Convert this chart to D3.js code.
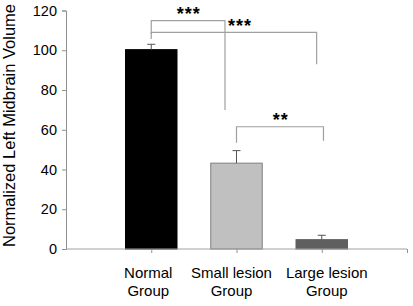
<!DOCTYPE html>
<html>
<head>
<meta charset="utf-8">
<script src="https://cdn.jsdelivr.net/npm/d3@7"></script>
<style>
  body { margin: 0; background: #fff; }
  text { font-family: "Liberation Sans", Arial, sans-serif; fill: #000; }
</style>
</head>
<body>
<svg id="chart" width="413" height="306"></svg>
<script>
// chart data
const groups = [["Normal", "Group"], ["Small lesion", "Group"], ["Large lesion", "Group"]];
const values = [100.3, 43.2, 4.7];
const errors = [2.7, 6.3, 2.2];
const barColors = ["#000000", "#c0c0c0", "#5f5f5f"];
const yTicks = [0, 20, 40, 60, 80, 100, 120];

// significance brackets: [left pos, right pos, top, left foot, right foot, label]
const brackets = [
  [1, 1.865, 114.9, 108.2, 69.9, "***"],
  [1, 2.94, 109.0, 105.7, 92.9, "***"],
  [2, 3.02, 61.5, 53.5, 54.5, "**"]
];
const starPos = [[1.44, 115.3], [2.04, 109.3], [2.52, 62]];

const svg = d3.select("#chart");

let x = d3.scaleLinear().domain([0, 4]).range([66, 407]);
let y = d3.scaleLinear().domain([0, 120]).range([249, 10.5]);
let barW = 51.5;

// y axis
let yAxis = d3.axisLeft(y).tickValues(yTicks).tickSize(4).tickPadding(5);
let ya = svg.append("g").attr("transform", "translate(66,0)").call(yAxis);
ya.select(".domain").attr("stroke", "#909090");
ya.selectAll(".tick line").attr("stroke", "#909090");
ya.selectAll(".tick text").style("font-size", "14.5px").attr("fill", "#000");

// bars
svg.selectAll("rect.bar").data(values).enter().append("rect")
  .attr("class", "bar")
  .attr("x", (d, i) => x(i + 1) - barW / 2)
  .attr("y", d => y(d))
  .attr("width", barW)
  .attr("height", d => y(0) - y(d))
  .attr("fill", (d, i) => barColors[i])
  .attr("stroke", (d, i) => i == 1 ? "#808080" : barColors[i])
  .attr("stroke-width", 1);

// error bars
values.forEach(function(v, i) {
  let cx = x(i + 1);
  svg.append("line").attr("x1", cx).attr("x2", cx)
    .attr("y1", y(v)).attr("y2", y(v + errors[i]))
    .attr("stroke", "#555").attr("stroke-width", 1);
  svg.append("line").attr("x1", cx - 4).attr("x2", cx + 4)
    .attr("y1", y(v + errors[i])).attr("y2", y(v + errors[i]))
    .attr("stroke", "#555").attr("stroke-width", 1);
});

// x axis
let xAxis = d3.axisBottom(x).tickValues([1, 2, 3, 4]).tickSize(4).tickFormat("");
let xa = svg.append("g").attr("transform", "translate(0," + y(0) + ")").call(xAxis);
xa.select(".domain").attr("stroke", "#a0a0a0").attr("d", "M66,0H407");
xa.selectAll(".tick line").attr("stroke", "#909090");

// category labels (slightly shifted off the tick like the original)
let labelShift = [-3, -5, 5];
groups.forEach(function(g, i) {
  let lx = x(i + 1) + labelShift[i];
  let t = svg.append("text")
    .attr("x", lx)
    .attr("y", 278)
    .attr("text-anchor", "middle")
    .style("font-size", "15px");
  g.forEach(function(line, j) {
    t.append("tspan").attr("x", lx).attr("dy", j == 0 ? 0 : 18).text(line);
  });
});

// y title
svg.append("text")
  .attr("transform", "translate(15,247) rotate(-90)")
  .attr("text-anchor", "start")
  .style("font-size", "16.5px")
  .text("Normalized Left Midbrain Volume");

// brackets
brackets.forEach(function(b, i) {
  let x1 = x(b[0]), x2 = x(b[1]);
  svg.append("path")
    .attr("d", "M" + x1 + "," + y(b[3]) + "V" + y(b[2]) + "H" + x2 + "V" + y(b[4]))
    .attr("fill", "none")
    .attr("stroke", "#a0a0a0")
    .attr("stroke-width", 1.2);
  svg.append("text")
    .attr("x", x(starPos[i][0]))
    .attr("y", y(starPos[i][1]))
    .attr("text-anchor", "middle")
    .style("font-size", "18px")
    .style("font-weight", "bold")
    .style("letter-spacing", "1px")
    .text(b[5]);
});
</script>
</body>
</html>
